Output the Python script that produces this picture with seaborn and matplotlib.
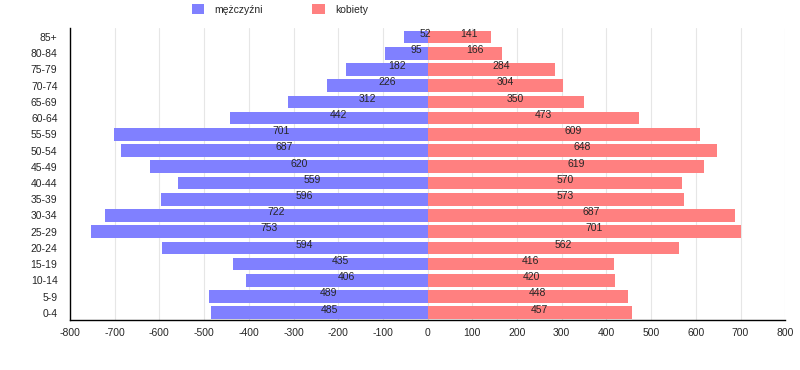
import numpy as np
import pandas as pd

import matplotlib
matplotlib.use("Agg")

import matplotlib.pyplot as plt
import seaborn as sns


age_groups = ["85+", "80-84", "75-79", "70-74", "65-69", "60-64", "55-59", "50-54",
              "45-49", "40-44", "35-39", "30-34", "25-29", "20-24", "15-19", "10-14",
              "5-9", "0-4"]
men = [52, 95, 182, 226, 312, 442, 701, 687, 620, 559, 596, 722, 753, 594, 435, 406, 489, 485]
women = [141, 166, 284, 304, 350, 473, 609, 648, 619, 570, 573, 687, 701, 562, 416, 420, 448, 457]
x_ticks = list(range(-800, 801, 100))

MEN_COLOR = "#8080ff"
WOMEN_COLOR = "#ff8080"

sns.set_style("white")
plt.rcParams["font.family"] = ["Liberation Sans", "DejaVu Sans"]


def main():
    df = pd.DataFrame({"age": age_groups, "men": -np.array(men), "women": women})

    fig = plt.figure(figsize=(8, 3.7), dpi=100)
    ax = fig.add_axes([0.0875, 0.135, 0.894, 0.789])

    sns.barplot(data=df, y="age", x="men", order=age_groups, color=MEN_COLOR,
                saturation=1, width=0.78, edgecolor="none", linewidth=0,
                ax=ax, label="mężczyźni")
    sns.barplot(data=df, y="age", x="women", order=age_groups, color=WOMEN_COLOR,
                saturation=1, width=0.78, edgecolor="none", linewidth=0,
                ax=ax, label="kobiety")

    for i, (m, w) in enumerate(zip(men, women)):
        ax.text(-m / 2 + 22, i - 0.2, str(m), ha="center", va="center", fontsize=7.5)
        ax.text(w / 2 + 22, i - 0.2, str(w), ha="center", va="center", fontsize=7.5)

    ax.set_xlim(-800, 800)
    ax.set_ylim(len(age_groups) - 0.55, -0.55)
    ax.set_xticks(x_ticks)
    ax.set_xticklabels([str(t) for t in x_ticks], fontsize=7.5)
    ax.tick_params(axis="y", labelsize=7.5, length=0, pad=9)
    ax.tick_params(axis="x", length=0, pad=6)
    ax.set_xlabel("")
    ax.set_ylabel("")
    ax.xaxis.grid(True, color="#e6e6e6", linewidth=0.8)
    ax.set_axisbelow(True)
    sns.despine(ax=ax, top=True, right=True)
    for side in ("left", "bottom"):
        ax.spines[side].set_color("black")
        ax.spines[side].set_linewidth(1)

    ax.legend(loc="upper left", bbox_to_anchor=(0.232, 1.005), bbox_transform=fig.transFigure,
              ncol=2, frameon=False, fontsize=7.5, handlelength=1.2, handleheight=1.0,
              columnspacing=4.7, handletextpad=1.0, borderaxespad=0.2)

    fig.savefig("out.png", dpi=100)
    plt.close(fig)


if __name__ == "__main__":
    main()
